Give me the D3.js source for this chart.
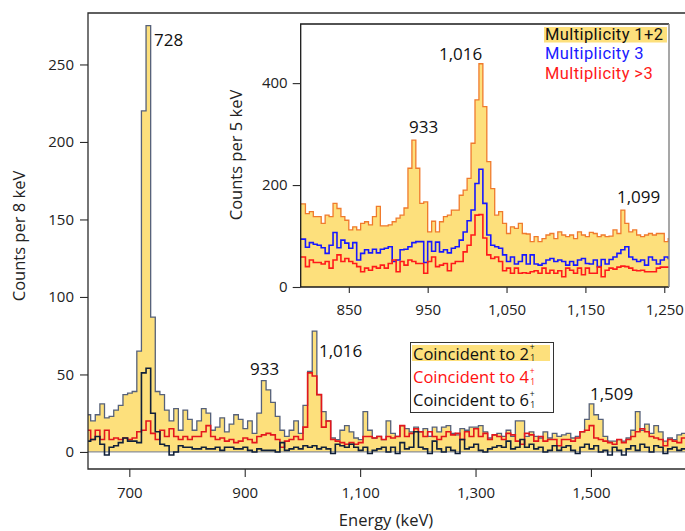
<!DOCTYPE html>
<html><head><meta charset="utf-8">
<script src="https://cdn.jsdelivr.net/npm/d3@7"></script>
<style>body{margin:0;background:#fff}svg{display:block;font-family:"Open Sans","Noto Sans",sans-serif}</style>
</head><body><svg id="c" width="685" height="531"></svg>
<script>
// ---- Main spectrum: counts per 8 keV, bins start at 625 keV ----
const mainBinStart = 625, mainBinWidth = 8;
const coinc2 = [24,20,24,31,22,23,27,30,37,38,
39,65,220,275,87,39,37,27,20,28,
14,27,21,14,20,28,25,14,16,22,
13,18,24,21,15,20,12,25,46,40,
32,23,14,10,14,20,12,30,52,78,
37,26,20,9,8,14,17,13,9,8,
26,14,9,10,8,20,12,10,17,15,
13,16,13,15,10,16,13,16,17,12,
11,15,14,16,16,17,13,9,11,12,
10,14,10,20,20,10,13,10,9,13,
9,12,10,11,12,9,10,13,21,31,
24,21,10,7,7,8,7,9,14,26,
14,18,12,17,13,7,9,8,11,12];
const coinc4 = [14,8,14,8,14,8,9,8,9,8,
9,13,14,20,12,8,14,10,15,10,
8,10,8,10,10,13,17,10,8,9,
7,8,6,7,9,8,6,10,11,12,
11,8,3,7,8,10,8,16,51,49,
37,16,20,8,7,6,5,6,5,6,
10,10,9,10,8,10,9,10,17,10,
12,15,13,10,13,10,8,10,13,11,
12,8,13,10,15,10,12,8,11,10,
8,12,11,7,5,12,11,7,10,7,
8,8,4,8,8,7,9,13,14,17,
9,8,7,6,5,8,6,8,10,13,
15,13,10,9,8,4,8,7,6,9];
const coinc6 = [7,8,10,5,-2,3,4,6,9,7,
7,6,51,54,25,13,5,4,-2,0,
4,3,3,2,2,3,2,2,3,1,
3,3,2,2,3,1,0,2,1,1,
1,0,6,1,2,3,2,4,3,4,
2,3,2,-1,5,4,3,5,3,1,
3,-1,1,2,3,0,3,-1,6,2,
3,13,3,2,-1,7,2,0,3,1,
-1,8,2,3,5,1,0,2,3,4,
3,7,2,3,8,3,5,2,3,0,
1,4,1,3,4,1,-1,3,5,2,
4,0,1,-2,3,1,-2,2,4,1,
5,3,0,4,3,-1,2,3,1,2];
const mainXTicks = [700,900,1100,1300,1500];
const mainYTicks = [0,50,100,150,200,250];
const mainPeakLabels = ["728","933","1,016","1,509"];
const mainLegend = ["Coincident to 2","Coincident to 4","Coincident to 6"];

// ---- Inset: counts per 5 keV, bins start at 785 keV ----
const insetBinStart = 785, insetBinWidth = 5;
const mult12 = [163,163,144,148,138,138,125,141,138,164,154,
138,131,112,118,112,125,128,122,138,158,
120,120,122,128,135,141,155,233,288,233,
164,167,108,129,108,128,138,141,151,151,
180,190,213,282,367,438,354,246,193,141,
148,125,105,118,115,125,105,104,89,99,
89,95,102,105,95,108,102,99,102,95,
108,102,99,107,105,99,102,99,100,112,
105,151,125,108,112,102,99,102,105,102,
105,105,89,95];
const mult3 = [94,94,78,87,84,82,77,66,82,107,77,
92,86,76,87,53,66,73,67,74,67,
74,76,79,50,53,73,74,79,87,89,
89,48,89,70,88,69,73,67,76,79,
92,108,130,151,203,231,164,102,82,79,
76,63,50,59,45,50,63,45,63,45,
43,46,53,56,50,53,50,43,50,43,
53,56,46,45,53,40,54,45,54,59,
66,73,79,59,54,50,53,43,59,53,
45,53,59,56];
const mult4 = [59,59,40,53,48,48,45,50,37,53,63,
50,56,50,46,40,30,37,33,40,37,
43,37,46,53,30,50,43,53,50,46,
46,27,50,59,40,43,46,32,46,50,
50,69,82,102,141,142,96,63,56,59,
50,32,37,27,37,27,28,27,30,32,
27,37,27,33,27,32,20,37,33,27,
37,24,37,27,27,39,20,33,37,35,
39,41,40,37,33,32,33,30,30,30,
37,39,39,39];
const insetXTicks = [850,950,1050,1150,1250];
const insetYTicks = [0,200,400];
const insetPeakLabels = ["933","1,016","1,099"];
const insetLegend = ["Multiplicity 1+2","Multiplicity 3","Multiplicity >3"];

const FONT = '"Open Sans","Noto Sans",sans-serif';
const svg = d3.select("#c");
const fmt = d3.format(",");

function pts(vals, start, w){
  const p = vals.map((v,i)=>[start+i*w, v]);
  p.push([start+vals.length*w, vals[vals.length-1]]);
  return p;
}

// ===== MAIN =====
const L=88, R=685, T=13, B=469;
const x = d3.scaleLinear().domain([628.4,1663]).range([L,R]);
const y = d3.scaleLinear().domain([-11,283.2]).range([B,T]);

svg.append("clipPath").attr("id","mclip").append("rect")
  .attr("x",L).attr("y",T).attr("width",R-L).attr("height",B-T);
const mg = svg.append("g").attr("clip-path","url(#mclip)");

const areaM = d3.area().curve(d3.curveStepAfter).x(d=>x(d[0])).y0(y(0)).y1(d=>y(d[1]));
const lineM = d3.line().curve(d3.curveStepAfter).x(d=>x(d[0])).y(d=>y(d[1]));

mg.append("path").datum(pts(coinc2,mainBinStart,mainBinWidth)).attr("d",areaM).attr("fill","#fde07c");
mg.append("line").attr("x1",L).attr("x2",R).attr("y1",y(0)).attr("y2",y(0)).attr("stroke","#8a8f99").attr("stroke-width",1.2);
mg.append("path").datum(pts(coinc2,mainBinStart,mainBinWidth)).attr("d",lineM).attr("fill","none").attr("stroke","#56617a").attr("stroke-width",1.3);
mg.append("path").datum(pts(coinc4,mainBinStart,mainBinWidth)).attr("d",lineM).attr("fill","none").attr("stroke","#e4161c").attr("stroke-width",1.6);
mg.append("path").datum(pts(coinc6,mainBinStart,mainBinWidth)).attr("d",lineM).attr("fill","none").attr("stroke","#10203a").attr("stroke-width",1.6);

// frame
svg.append("path").attr("d",`M${R},${T}H${L}V${B}H${R}`).attr("fill","none").attr("stroke","#2b2b2b").attr("stroke-width",1.3);

// axes
const yAx = svg.append("g").attr("transform",`translate(${L},0)`)
  .call(d3.axisLeft(y).tickValues(mainYTicks).tickSize(8).tickPadding(6));
const xAx = svg.append("g").attr("transform",`translate(0,${B})`)
  .call(d3.axisBottom(x).tickValues(mainXTicks).tickFormat(fmt).tickSize(8).tickPadding(10));
[yAx,xAx].forEach(a=>{a.select(".domain").remove();
  a.selectAll("line").attr("stroke","#2b2b2b").attr("stroke-width",1.1);
  a.selectAll("text").attr("font-size",15).attr("fill","#222").attr("font-family",FONT);});

svg.append("text").attr("transform","translate(25,236) rotate(-90)").attr("text-anchor","middle")
  .attr("font-size",16.5).attr("fill","#222").text("Counts per 8 keV");
svg.append("text").attr("x",386).attr("y",526).attr("text-anchor","middle")
  .attr("font-size",16.5).attr("fill","#222").text("Energy (keV)");

// peak labels (main)
const mainLabelPos = [[154,46],[250,375],[319,357],[590,400]];
mainPeakLabels.forEach((t,i)=>svg.append("text").attr("x",mainLabelPos[i][0]).attr("y",mainLabelPos[i][1])
  .attr("font-size",17).attr("fill","#111").text(t));

// main legend
const lg = svg.append("g");
lg.append("rect").attr("x",410.5).attr("y",342.5).attr("width",143).attr("height",70).attr("fill","#fff").attr("stroke","#333").attr("stroke-width",1);
lg.append("rect").attr("x",412).attr("y",345).attr("width",138).attr("height",16).attr("fill","#fde07c");
const legCols = ["#111","#ff1010","#111"];
[359.5,383,406].forEach((by,i)=>{
  const t = lg.append("text").attr("x",413).attr("y",by).attr("font-size",16.5).attr("fill",legCols[i]).text(mainLegend[i]);
  const w = t.node().getComputedTextLength();
  lg.append("text").attr("x",413+w+1).attr("y",by-9.5).attr("font-size",8.5).attr("fill",legCols[i]).text("+");
  lg.append("text").attr("x",413+w+1.3).attr("y",by+1.5).attr("font-size",8.5).attr("fill",legCols[i]).text("1");
});

// ===== INSET =====
const iL=300.7, iR=669, iT=24, iB=287;
const xi = d3.scaleLinear().domain([789,1256]).range([iL,iR]);
const yi = d3.scaleLinear().domain([0,516]).range([iB,iT]);
svg.append("rect").attr("x",iL).attr("y",iT).attr("width",iR-iL).attr("height",iB-iT).attr("fill","#fff");
svg.append("clipPath").attr("id","iclip").append("rect")
  .attr("x",iL).attr("y",iT).attr("width",iR-iL).attr("height",iB-iT);
const ig = svg.append("g").attr("clip-path","url(#iclip)");
const areaI = d3.area().curve(d3.curveStepAfter).x(d=>xi(d[0])).y0(yi(0)).y1(d=>yi(d[1]));
const lineI = d3.line().curve(d3.curveStepAfter).x(d=>xi(d[0])).y(d=>yi(d[1]));
ig.append("path").datum(pts(mult12,insetBinStart,insetBinWidth)).attr("d",areaI).attr("fill","#fde07c");
ig.append("path").datum(pts(mult12,insetBinStart,insetBinWidth)).attr("d",lineI).attr("fill","none").attr("stroke","#f07a2c").attr("stroke-width",1.3);
ig.append("path").datum(pts(mult3,insetBinStart,insetBinWidth)).attr("d",lineI).attr("fill","none").attr("stroke","#1818ff").attr("stroke-width",1.6);
ig.append("path").datum(pts(mult4,insetBinStart,insetBinWidth)).attr("d",lineI).attr("fill","none").attr("stroke","#ff1a1a").attr("stroke-width",1.6);

svg.append("path").attr("d",`M${iR},${iT}H${iL}V${iB}H${iR}`).attr("fill","none").attr("stroke","#1a1a1a").attr("stroke-width",1.3);
svg.append("line").attr("x1",iR).attr("x2",iR).attr("y1",iT).attr("y2",iB).attr("stroke","#8a8a8a").attr("stroke-width",1.5);

const yiAx = svg.append("g").attr("transform",`translate(${iL},0)`)
  .call(d3.axisLeft(yi).tickValues(insetYTicks).tickSize(8).tickPadding(5));
const xiAx = svg.append("g").attr("transform",`translate(0,${iB})`)
  .call(d3.axisBottom(xi).tickValues(insetXTicks).tickFormat(fmt).tickSize(6).tickPadding(11));
[yiAx,xiAx].forEach(a=>{a.select(".domain").remove();
  a.selectAll("line").attr("stroke","#2b2b2b").attr("stroke-width",1.1);
  a.selectAll("text").attr("font-size",15).attr("fill","#222").attr("font-family",FONT);});

svg.append("text").attr("transform","translate(242,155) rotate(-90)").attr("text-anchor","middle")
  .attr("font-size",16.5).attr("fill","#222").text("Counts per 5 keV");

const insetLabelPos = [[409,133],[439,60],[617,203]];
insetPeakLabels.forEach((t,i)=>svg.append("text").attr("x",insetLabelPos[i][0]).attr("y",insetLabelPos[i][1])
  .attr("font-size",17).attr("fill","#111").text(t));

svg.append("rect").attr("x",544).attr("y",27).attr("width",123).attr("height",15.5).attr("fill","#fde07c");
const iCols = ["#111","#1a1aff","#ff1a1a"];
[39.5,59.3,79.1].forEach((by,i)=>svg.append("text").attr("x",545).attr("y",by).attr("font-size",16.5)
  .attr("font-family","Roboto,sans-serif").attr("letter-spacing",0.4)
  .attr("fill",iCols[i]).text(insetLegend[i]));
</script></body></html>
